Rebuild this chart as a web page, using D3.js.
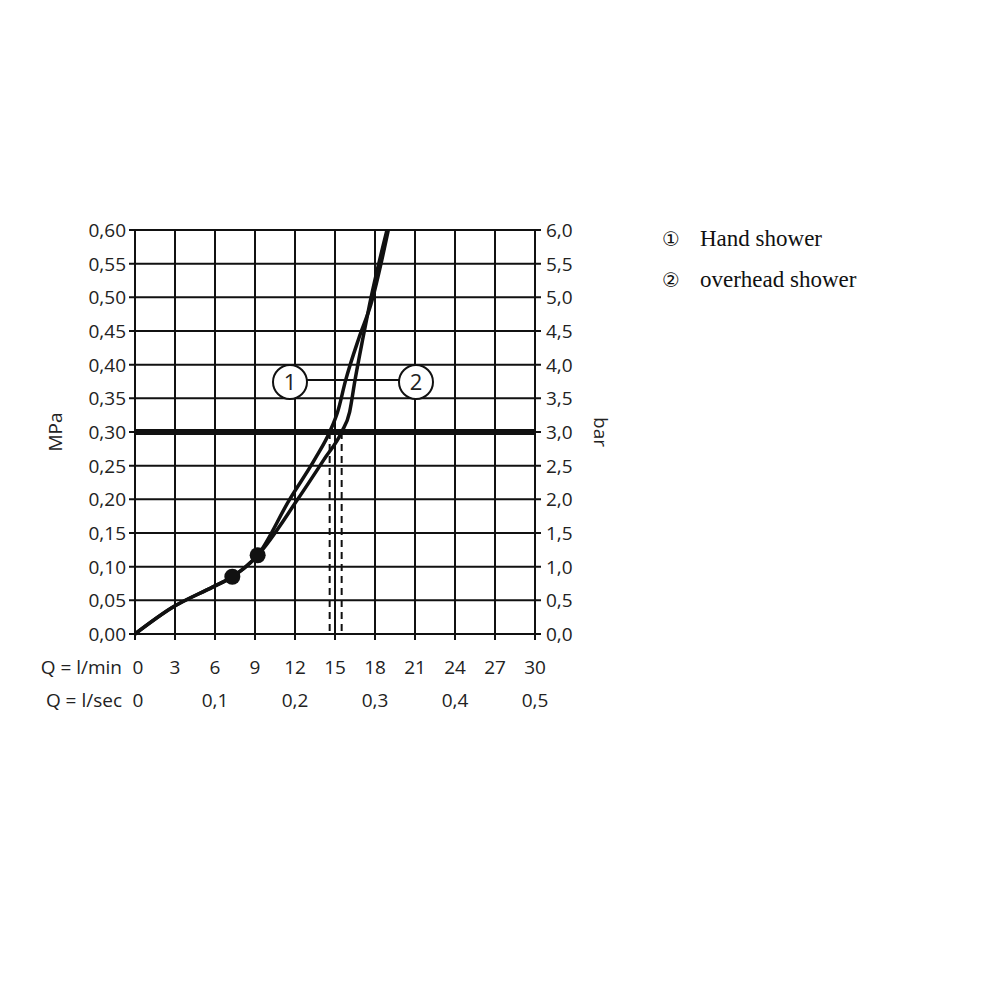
<!DOCTYPE html>
<html><head><meta charset="utf-8">
<script src="https://cdn.jsdelivr.net/npm/d3@7"></script>
<style>body{margin:0;background:#fff}</style>
</head><body>
<svg id="c" width="1000" height="1000"></svg>
<script>
// flow in l/min, pressure in MPa
const handShower = [[0,0],[2.85,0.04],[5.85,0.07],[7.3,0.085],[9.2,0.117],[11.6,0.2],[13.5,0.26],[14.6,0.30],[15.2,0.33],[15.8,0.377],[16.8,0.44],[17.7,0.49],[19,0.6]];
const overheadShower = [[0,0],[2.85,0.04],[5.85,0.07],[7.3,0.085],[9.2,0.117],[12.2,0.2],[14.2,0.26],[15.5,0.30],[16.1,0.33],[16.5,0.377],[17.1,0.44],[17.6,0.49],[18.9,0.6]];
const dots = [[7.3,0.085],[9.2,0.117]];
const dashQ = [14.6,15.5];
const mpaTicks = d3.range(0,0.601,0.05);
const lminTicks = d3.range(0,31,3);
const lsecTicks = [[0,"0"],[6,"0,1"],[12,"0,2"],[18,"0,3"],[24,"0,4"],[30,"0,5"]];
const legendMarks = ["①","②"];
const legend = ["Hand shower","overhead shower"];

const svg = d3.select("#c");
const x = d3.scaleLinear().domain([0,30]).range([135,535]);
const y = d3.scaleLinear().domain([0,0.6]).range([634,230]);
const fmt = v => v.toFixed(2).replace(".",",");
const sans = "'Open Sans', sans-serif";
const fs = 19;

// grid
svg.selectAll(".vg").data(lminTicks).join("line")
  .attr("x1",d=>x(d)).attr("x2",d=>x(d)).attr("y1",y(0)+6).attr("y2",y(0.6))
  .attr("stroke","#111").attr("stroke-width",2);
svg.selectAll(".hg").data(mpaTicks).join("line")
  .attr("x1",x(0)-6).attr("x2",x(30)+6).attr("y1",d=>y(d)).attr("y2",d=>y(d))
  .attr("stroke","#111").attr("stroke-width",2);
svg.append("line").attr("x1",x(0)).attr("x2",x(30)).attr("y1",y(0.3)).attr("y2",y(0.3))
  .attr("stroke","#111").attr("stroke-width",6);

// tick labels
svg.selectAll(".lt").data(mpaTicks).join("text").attr("x",x(0)-9).attr("y",d=>y(d)+7)
  .attr("text-anchor","end").attr("font-family",sans).attr("font-size",fs).attr("fill","#222").text(fmt);
svg.selectAll(".rt").data(mpaTicks).join("text").attr("x",x(30)+11).attr("y",d=>y(d)+7)
  .attr("font-family",sans).attr("font-size",fs).attr("fill","#222").text(d=>(d*10).toFixed(1).replace(".",","));
svg.selectAll(".bt").data(lminTicks).join("text").attr("x",d=>x(d)+(d==0?3:0)).attr("y",674)
  .attr("text-anchor","middle").attr("font-family",sans).attr("font-size",fs).attr("fill","#222").text(d=>d);
svg.selectAll(".st").data(lsecTicks).join("text").attr("x",d=>x(d[0])+(d[0]==0?3:0)).attr("y",707)
  .attr("text-anchor","middle").attr("font-family",sans).attr("font-size",fs).attr("fill","#222").text(d=>d[1]);
svg.append("text").attr("x",122).attr("y",674).attr("text-anchor","end").attr("font-family",sans).attr("font-size",fs).attr("fill","#222").text("Q = l/min");
svg.append("text").attr("x",122).attr("y",707).attr("text-anchor","end").attr("font-family",sans).attr("font-size",fs).attr("fill","#222").text("Q = l/sec");
svg.append("text").attr("transform","translate(62,432) rotate(-90)").attr("text-anchor","middle")
  .attr("font-family",sans).attr("font-size",fs).attr("fill","#222").text("MPa");
svg.append("text").attr("transform","translate(594,432) rotate(90)").attr("text-anchor","middle")
  .attr("font-family",sans).attr("font-size",fs).attr("fill","#222").text("bar");

// dashed drops
svg.selectAll(".dq").data(dashQ).join("line").attr("x1",d=>x(d)).attr("x2",d=>x(d))
  .attr("y1",y(0.3)).attr("y2",y(0)).attr("stroke","#111").attr("stroke-width",2).attr("stroke-dasharray","7,5");

// curves
const line = d3.line().x(d=>x(d[0])).y(d=>y(d[1])).curve(d3.curveMonotoneX);
[handShower, overheadShower].forEach(s=>{
  svg.append("path").attr("d",line(s)).attr("fill","none").attr("stroke","#111").attr("stroke-width",3.5);
});
svg.selectAll(".dot").data(dots).join("circle").attr("cx",d=>x(d[0])).attr("cy",d=>y(d[1])).attr("r",8).attr("fill","#111");

// callouts
svg.append("line").attr("x1",306).attr("x2",400).attr("y1",380).attr("y2",380).attr("stroke","#111").attr("stroke-width",2);
[[290,"1"],[416,"2"]].forEach(c=>{
  svg.append("circle").attr("cx",c[0]).attr("cy",382).attr("r",17).attr("fill","#fff").attr("stroke","#111").attr("stroke-width",2);
  svg.append("text").attr("x",c[0]).attr("y",390).attr("text-anchor","middle").attr("font-family",sans).attr("font-size",22).attr("fill","#222").text(c[1]);
});

// legend
svg.selectAll(".lm").data(legendMarks).join("text").attr("x",662).attr("y",(d,i)=>246+i*41)
  .attr("font-family","'DejaVu Sans', sans-serif").attr("font-size",20).attr("fill","#111").text(d=>d);
svg.selectAll(".lg").data(legend).join("text").attr("x",700).attr("y",(d,i)=>246+i*41)
  .attr("font-family","'Liberation Serif', serif").attr("font-size",23).attr("fill","#111").text(d=>d);
</script>
</body></html>
